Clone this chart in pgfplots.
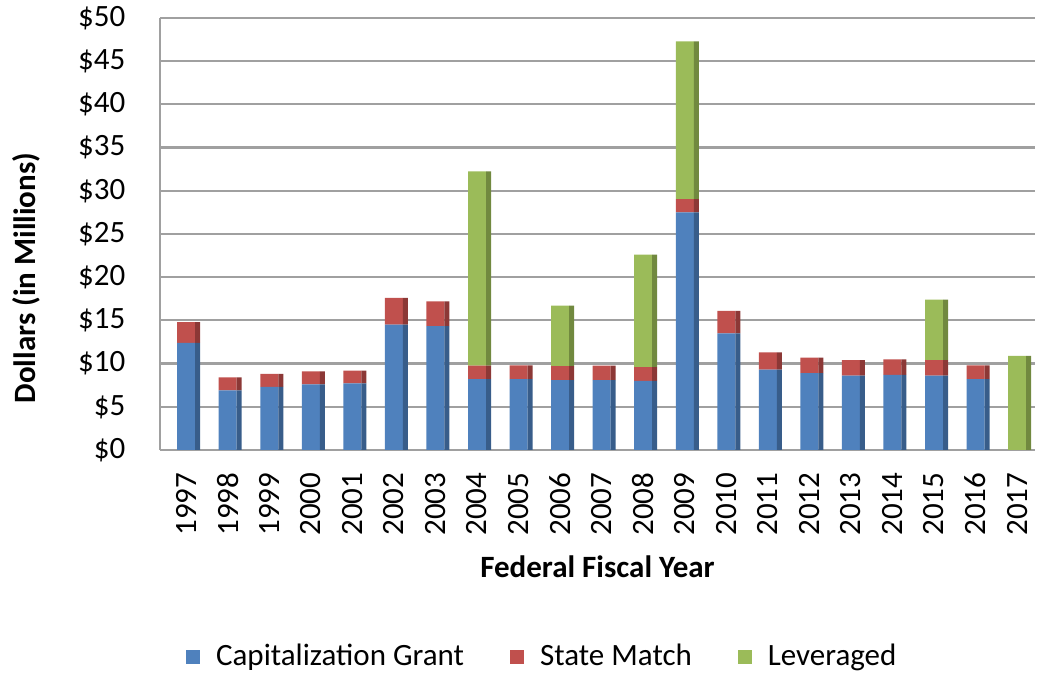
\documentclass[border=0pt]{standalone}
\usepackage{pgfplots}
\usepackage{pgfplotstable}
\pgfplotsset{compat=1.18}
\usepackage{fontspec}
\setmainfont{Carlito}
\definecolor{cgblue}{HTML}{4F81BD}
\definecolor{smred}{HTML}{C0504D}
\definecolor{levgreen}{HTML}{9BBB59}
\definecolor{cgblueD}{HTML}{385D8A}
\definecolor{smredD}{HTML}{8C3836}
\definecolor{levgreenD}{HTML}{71893F}
\definecolor{gridgray}{HTML}{A0A0A0}
\pgfplotstableread{
x  cap    sm    lev
0  12.4   2.4   0
1  6.9    1.5   0
2  7.3    1.5   0
3  7.6    1.5   0
4  7.7    1.5   0
5  14.5   3.1   0
6  14.35  2.85  0
7  8.2    1.56  22.5
8  8.2    1.6   0
9  8.1    1.6   7.0
10 8.1    1.66  0
11 8.0    1.6   13.0
12 27.5   1.55  18.25
13 13.5   2.6   0
14 9.3    2.0   0
15 8.9    1.8   0
16 8.6    1.8   0
17 8.7    1.8   0
18 8.6    1.8   7.0
19 8.2    1.6   0
20 0      0     10.9
}\fundtable
\pgfplotsset{
  base/.style={
    at={(0,0)}, anchor=south west,
    scale only axis,
    width=437.5pt, height=216pt,
    xmin=-0.63, xmax=20.43,
    ymin=0, ymax=50,
    ybar stacked,
  }
}
\begin{document}
\fontsize{15.5}{18}\selectfont
\begin{tikzpicture}
\begin{axis}[
  base,
  bar width=9pt,
  xtick={0,...,20},
  xticklabels={1997,1998,1999,2000,2001,2002,2003,2004,2005,2006,2007,2008,2009,2010,2011,2012,2013,2014,2015,2016,2017},
  xticklabel style={rotate=90, anchor=east, xshift=-6pt, font=\fontsize{15.5}{18}\selectfont},
  ytick={0,5,...,50},
  yticklabel={\$\pgfmathprintnumber{\tick}},
  yticklabel style={xshift=-12pt, font=\fontsize{15.5}{18}\selectfont},
  /pgf/number format/assume math mode=true,
  major tick length=0pt,
  ymajorgrids,
  grid style={gridgray, line width=1.1pt},
  axis line style={gridgray, line width=1.1pt},
  axis x line*=bottom,
  axis y line*=left,
  xlabel={Federal Fiscal Year},
  ylabel={Dollars (in Millions)},
  xlabel style={at={(axis description cs:0.5,0)}, anchor=center, yshift=-58.5pt, font=\fontsize{15.5}{18}\selectfont\bfseries},
  ylabel style={at={(axis description cs:-0.153,0.398)}, anchor=center, font=\fontsize{15.5}{18}\selectfont\bfseries},
  legend style={at={(axis description cs:0.438,0)}, anchor=center, yshift=-103.5pt, legend columns=3, draw=none,
    font=\fontsize{15.5}{18}\selectfont,
    /tikz/every odd column/.append style={column sep=6pt},
    /tikz/every even column/.append style={column sep=21pt}},
  legend image code/.code={\fill[#1] (0pt,-3.5pt) rectangle (7pt,3.5pt);},
]
\addplot[fill=cgblue, draw=none] table[x=x, y=cap] {\fundtable};
\addplot[fill=smred, draw=none] table[x=x, y=sm] {\fundtable};
\addplot[fill=levgreen, draw=none] table[x=x, y=lev] {\fundtable};
\legend{Capitalization Grant, State Match, Leveraged}
\end{axis}
\begin{axis}[
  base,
  hide axis,
  bar width=2.5pt,
  bar shift=5.75pt,
]
\addplot[fill=cgblueD, draw=none] table[x=x, y=cap] {\fundtable};
\addplot[fill=smredD, draw=none] table[x=x, y=sm] {\fundtable};
\addplot[fill=levgreenD, draw=none] table[x=x, y=lev] {\fundtable};
\end{axis}
\pgfresetboundingbox
\path[use as bounding box] (-80pt,-111.5pt) rectangle (442pt,225pt);
\end{tikzpicture}
\end{document}
